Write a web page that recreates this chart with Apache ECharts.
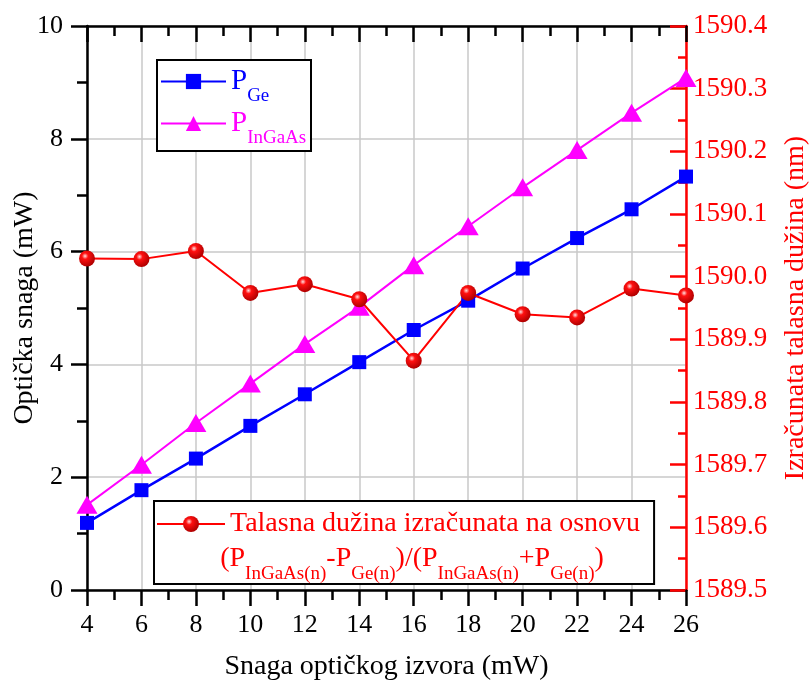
<!DOCTYPE html>
<html>
<head>
<meta charset="utf-8">
<script src="https://cdn.jsdelivr.net/npm/echarts@6/dist/echarts.min.js"></script>
<style>
  html, body { margin: 0; padding: 0; background: #fff; }
  #chart { width: 811px; height: 681px; }
</style>
</head>
<body>
<div id="chart"></div>
<script>
var sourcePower = [4, 6, 8, 10, 12, 14, 16, 18, 20, 22, 24, 26];
var powerGe = [1.19, 1.77, 2.33, 2.91, 3.47, 4.04, 4.61, 5.13, 5.70, 6.24, 6.75, 7.33];
var powerInGaAs = [1.51, 2.22, 2.96, 3.66, 4.36, 5.02, 5.76, 6.45, 7.14, 7.80, 8.46, 9.08];
var wavelength = [1590.029, 1590.028, 1590.041, 1589.974, 1589.988, 1589.964,
                  1589.866, 1589.974, 1589.940, 1589.935, 1589.981, 1589.970];

var FONT = 'Liberation Serif';
var chart = echarts.init(document.getElementById('chart'));

function pairs(ys) {
  return sourcePower.map(function (x, i) { return [x, ys[i]]; });
}

// P with a subscript: line box 29px, main glyph in the middle, subscript ~15px lower
function mainTok(color, size) {
  return { fontFamily: FONT, fontSize: size, lineHeight: 29, color: color, verticalAlign: 'top', padding: [0, 0, 0, 0] };
}
function subTok(color) {
  return { fontFamily: FONT, fontSize: 19, lineHeight: 29, color: color, verticalAlign: 'top', padding: [20, 0, 0, 0] };
}

var sphere = {
  type: 'radial', x: 0.38, y: 0.35, r: 0.65,
  colorStops: [
    { offset: 0, color: '#ffe0e0' },
    { offset: 0.3, color: '#ff1010' },
    { offset: 1, color: '#b00000' }
  ]
};

var tickBlack = { show: true, length: 16, lineStyle: { color: '#000', width: 2.5 } };
var minorBlack = { show: true, splitNumber: 2, length: 10, lineStyle: { color: '#000', width: 2.5 } };

var option = {
  animation: false,
  backgroundColor: '#fff',
  textStyle: { fontFamily: FONT },
  grid: { left: 87, right: 125, top: 26, bottom: 91, containLabel: false, outerBoundsMode: 'none' },
  legend: [
    {
      data: ['PGe', 'PInGaAs'],
      orient: 'vertical',
      left: 160, top: 67,
      padding: 0,
      itemGap: 3,
      itemWidth: 65, itemHeight: 19,
      selectedMode: false,
      formatter: function (name) {
        return name === 'PGe' ? '{pb|P}{sb|Ge}' : '{pm|P}{sm|InGaAs}';
      },
      textStyle: {
        rich: {
          pb: mainTok('#0000ff', 29), sb: subTok('#0000ff'),
          pm: mainTok('#ff00ff', 29), sm: subTok('#ff00ff')
        }
      }
    },
    {
      data: ['lambda'],
      left: 154, top: 501,
      padding: [8, 14, 45, 2],
      itemWidth: 68, itemHeight: 20,
      selectedMode: false,
      backgroundColor: '#fff',
      borderColor: '#000', borderWidth: 2,
      formatter: function () { return 'Talasna dužina izračunata na osnovu'; },
      textStyle: { fontFamily: FONT, fontSize: 28, lineHeight: 30, color: '#ff0000' }
    }
  ],
  graphic: [
    {
      type: 'rect', z: 3,
      shape: { x: 157, y: 60, width: 154, height: 91 },
      style: { fill: '#fff', stroke: '#000', lineWidth: 2 }
    },
    {
      type: 'text', x: 412, y: 559, z: 100,
      style: {
        text: '{m|(P}{s|InGaAs(n)}{m|-P}{s|Ge(n)}{m|)/(P}{s|InGaAs(n)}{m|+P}{s|Ge(n)}{m|)}',
        align: 'center', verticalAlign: 'middle',
        fill: '#ff0000',
        rich: { m: mainTok('#ff0000', 28), s: subTok('#ff0000') }
      }
    }
  ],
  xAxis: [
    {
      type: 'value', position: 'bottom',
      min: 4, max: 26, interval: 2,
      name: 'Snaga optičkog izvora (mW)',
      nameLocation: 'middle', nameGap: 63, nameMoveOverlap: false,
      nameTextStyle: { fontFamily: FONT, fontSize: 28, color: '#000' },
      axisLine: { show: true, lineStyle: { color: '#000', width: 2.5 } },
      axisTick: tickBlack,
      minorTick: minorBlack,
      axisLabel: { fontFamily: FONT, fontSize: 26, color: '#000', margin: 22 },
      splitLine: { show: true, lineStyle: { color: '#c8c8c8', width: 1.5 } }
    },
    {
      type: 'value', position: 'top',
      min: 4, max: 26, interval: 2,
      axisLine: { show: true, lineStyle: { color: '#000', width: 2.5 } },
      axisTick: { show: true, inside: true, length: 16, lineStyle: { color: '#000', width: 2.5 } },
      minorTick: { show: true, splitNumber: 2, length: 10, lineStyle: { color: '#000', width: 2.5 } },
      axisLabel: { show: false },
      splitLine: { show: false }
    }
  ],
  yAxis: [
    {
      type: 'value', position: 'left',
      min: 0, max: 10, interval: 2,
      name: 'Optička snaga (mW)',
      nameLocation: 'middle', nameGap: 48, nameMoveOverlap: false,
      nameTextStyle: { fontFamily: FONT, fontSize: 28, color: '#000' },
      axisLine: { show: true, lineStyle: { color: '#000', width: 2.5 } },
      axisTick: tickBlack,
      minorTick: minorBlack,
      axisLabel: { fontFamily: FONT, fontSize: 26, color: '#000', margin: 24 },
      splitLine: { show: true, lineStyle: { color: '#c8c8c8', width: 1.5 } }
    },
    {
      type: 'value', position: 'right',
      min: 1589.5, max: 1590.4, interval: 0.1,
      alignTicks: false,
      name: 'Izračunata talasna dužina (nm)',
      nameLocation: 'middle', nameGap: 96, nameMoveOverlap: false,
      nameTextStyle: { fontFamily: FONT, fontSize: 28, color: '#ff0000' },
      axisLine: { show: true, lineStyle: { color: '#ff0000', width: 2.5 } },
      axisTick: { show: true, inside: true, length: 16, lineStyle: { color: '#ff0000', width: 2.5 } },
      minorTick: { show: true, splitNumber: 2, length: 8, lineStyle: { color: '#ff0000', width: 2.5 } },
      axisLabel: {
        fontFamily: FONT, fontSize: 27, color: '#ff0000', margin: 7,
        formatter: function (v) { return v.toFixed(1); }
      },
      splitLine: { show: false }
    }
  ],
  series: [
    {
      name: 'PGe', type: 'line',
      xAxisIndex: 0, yAxisIndex: 0,
      data: pairs(powerGe),
      symbol: 'rect', symbolSize: 14,
      color: '#0000ff',
      lineStyle: { color: '#0000ff', width: 2.5 },
      itemStyle: { color: '#0000ff' }
    },
    {
      name: 'PInGaAs', type: 'line',
      xAxisIndex: 0, yAxisIndex: 0,
      data: pairs(powerInGaAs),
      symbol: 'triangle', symbolSize: [21, 18],
      color: '#ff00ff',
      lineStyle: { color: '#ff00ff', width: 2 },
      itemStyle: { color: '#ff00ff' }
    },
    {
      name: 'lambda', type: 'line',
      xAxisIndex: 0, yAxisIndex: 1,
      data: pairs(wavelength),
      symbol: 'circle', symbolSize: 16,
      color: '#ff0000',
      lineStyle: { color: '#ff0000', width: 2 },
      itemStyle: { color: sphere }
    }
  ]
};

chart.setOption(option);
</script>
</body>
</html>
